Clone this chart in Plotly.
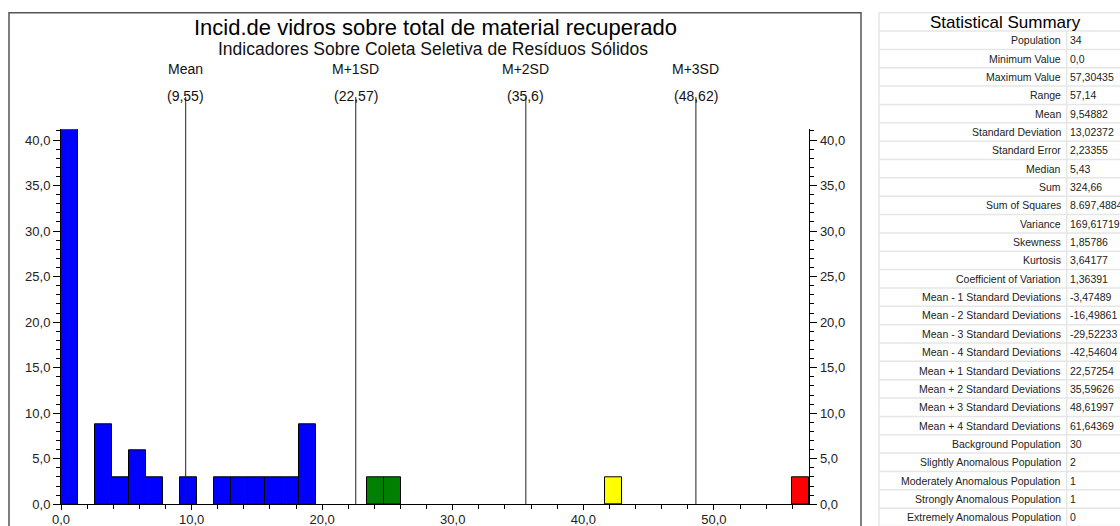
import plotly.graph_objects as go

W, H = 1120, 526

# ---------------- data ----------------
title = "Incid.de vidros sobre total de material recuperado"
subtitle = "Indicadores Sobre Coleta Seletiva de Resíduos Sólidos"

population = 34
min_value = 0.0
max_value = 57.30435
n_bins = 44
bin_counts = [14, 0, 3, 1, 2, 1, 0, 1, 0, 1,
              1, 1, 1, 1, 3, 0, 0, 0, 1, 1,
              0, 0, 0, 0, 0, 0, 0, 0, 0, 0,
              0, 0, 1, 0, 0, 0, 0, 0, 0, 0,
              0, 0, 0, 1]

sd_names = ["Mean", "M+1SD", "M+2SD", "M+3SD"]
sd_values = [9.54882, 22.57254, 35.59626, 48.61997]
class_colors = ["#0000FF", "#008000", "#FFFF00", "#FF0000"]

y_ticks_fmt = ".1f"

summary_title = "Statistical Summary"
summary_labels = [
    "Population", "Minimum Value", "Maximum Value", "Range", "Mean",
    "Standard Deviation", "Standard Error", "Median", "Sum", "Sum of Squares",
    "Variance", "Skewness", "Kurtosis", "Coefficient of Variation",
    "Mean - 1 Standard Deviations", "Mean - 2 Standard Deviations",
    "Mean - 3 Standard Deviations", "Mean - 4 Standard Deviations",
    "Mean + 1 Standard Deviations", "Mean + 2 Standard Deviations",
    "Mean + 3 Standard Deviations", "Mean + 4 Standard Deviations",
    "Background Population", "Slightly Anomalous Population",
    "Moderately Anomalous Population", "Strongly Anomalous Population",
    "Extremely Anomalous Population",
]
summary_values = [
    "34", "0,0", "57,30435", "57,14", "9,54882",
    "13,02372", "2,23355", "5,43", "324,66", "8.697,48849",
    "169,61719", "1,85786", "3,64177", "1,36391",
    "-3,47489", "-16,49861", "-29,52233", "-42,54604",
    "22,57254", "35,59626", "48,61997", "61,64369",
    "30", "2", "1", "1", "0",
]

# ---------------- derived ----------------
bw = (max_value - min_value) / n_bins
xs, ys, cols = [], [], []
for i, c in enumerate(bin_counts):
    if c == 0:
        continue
    center = min_value + (i + 0.5) * bw
    k = sum(1 for v in sd_values if center >= v)
    k = max(0, k - 1)
    xs.append(center)
    ys.append(c / population * 100.0)
    cols.append(class_colors[k])
y_top = max(ys)

# ---------------- layout helpers (window pixels -> paper) ----------------
def px_x(p):
    return p / W

def px_y(p):
    return 1 - p / H

FONT = "Liberation Sans, Arial, sans-serif"
x_dom = [px_x(61), px_x(809.3)]
y_dom = [px_y(504.3), px_y(129.3)]

fig = go.Figure()
fig.add_trace(go.Bar(
    x=xs, y=ys, width=bw,
    marker=dict(color=cols, line=dict(color="black", width=1)),
    showlegend=False, hoverinfo="x+y",
))
fig.add_trace(go.Scatter(x=[None], y=[None], yaxis="y2", showlegend=False,
                         hoverinfo="skip", mode="markers"))

axis_common = dict(
    showline=True, linecolor="black", linewidth=1, ticks="outside",
    tickcolor="black", tickwidth=1, showgrid=False, zeroline=False,
    automargin=False,
    tickformat=y_ticks_fmt, tickfont=dict(family=FONT, size=13, color="#222"),
)

fig.update_layout(
    width=W, height=H, margin=dict(l=0, r=0, t=0, b=0, pad=0),
    paper_bgcolor="white", plot_bgcolor="white",
    separators=",.", bargap=0, showlegend=False,
    font=dict(family=FONT, color="#222"),
    xaxis=dict(domain=x_dom, range=[min_value, max_value], dtick=10, tick0=0,
               ticklen=5, anchor="y", ticklabelstandoff=-2,
               minor=dict(dtick=2, tick0=0, ticks="outside", ticklen=4,
                          tickcolor="black"),
               **axis_common),
    yaxis=dict(domain=y_dom, range=[0, y_top], dtick=5, tick0=0, ticklen=7,
               anchor="x", side="left",
               minor=dict(dtick=1, tick0=0, ticks="outside", ticklen=4,
                          tickcolor="black"),
               **axis_common),
    yaxis2=dict(range=[0, y_top], dtick=5, tick0=0, ticklen=7,
                anchor="x", side="right", overlaying="y",
                minor=dict(dtick=1, tick0=0, ticks="outside", ticklen=4,
                           tickcolor="black"),
                **axis_common),
)

shapes = []
annotations = []

# chart frame
shapes.append(dict(type="rect", xref="paper", yref="paper",
                   x0=px_x(9), x1=px_x(861), y0=px_y(560), y1=px_y(12.7),
                   line=dict(color="#555", width=1.5), layer="below"))

# titles
annotations.append(dict(text=title, xref="paper", yref="paper",
                        x=px_x(435), y=px_y(27), showarrow=False,
                        xanchor="center", yanchor="middle",
                        font=dict(family=FONT, size=22, color="black")))
annotations.append(dict(text=subtitle, xref="paper", yref="paper",
                        x=px_x(433), y=px_y(49), showarrow=False,
                        xanchor="center", yanchor="middle",
                        font=dict(family=FONT, size=17.5, color="#111")))

# mean / SD lines
for name, v in zip(sd_names, sd_values):
    shapes.append(dict(type="line", xref="x", yref="paper",
                       x0=v, x1=v, y0=y_dom[0], y1=px_y(97),
                       line=dict(color="#222", width=1), layer="above"))
    annotations.append(dict(text=name, xref="x", yref="paper", x=v,
                            y=px_y(68.5), showarrow=False, xanchor="center",
                            yanchor="middle",
                            font=dict(family=FONT, size=14, color="#111")))
    lab = "(" + f"{round(v, 2):g}".replace(".", ",") + ")"
    annotations.append(dict(text=lab, xref="x", yref="paper", x=v,
                            y=px_y(96), showarrow=False, xanchor="center",
                            yanchor="middle",
                            font=dict(family=FONT, size=14, color="#111")))

# summary table
t_left, t_div, t_right = 879, 1066.7, 1130
t_top, row_h = 12.7, 18.35
grid = dict(color="#e6e6e6", width=1.5)
n_rows = len(summary_labels)
for k in range(n_rows + 2):
    yy = t_top + k * row_h
    shapes.append(dict(type="line", xref="paper", yref="paper",
                       x0=px_x(t_left), x1=px_x(t_right),
                       y0=px_y(yy), y1=px_y(yy), line=grid))
shapes.append(dict(type="line", xref="paper", yref="paper",
                   x0=px_x(t_left), x1=px_x(t_left),
                   y0=px_y(t_top), y1=px_y(H + 8), line=grid))
shapes.append(dict(type="line", xref="paper", yref="paper",
                   x0=px_x(t_div), x1=px_x(t_div),
                   y0=px_y(t_top + row_h), y1=px_y(H + 8), line=grid))
annotations.append(dict(text=summary_title, xref="paper", yref="paper",
                        x=px_x(1005.5), y=px_y(t_top + row_h / 2 + 0.5),
                        showarrow=False, xanchor="center", yanchor="middle",
                        font=dict(family=FONT, size=17, color="black")))
for i, (lab, val) in enumerate(zip(summary_labels, summary_values)):
    yc = t_top + row_h * (i + 1.5)
    annotations.append(dict(text=lab, xref="paper", yref="paper",
                            x=px_x(t_div - 3.5), y=px_y(yc), showarrow=False,
                            xanchor="right", yanchor="middle",
                            font=dict(family=FONT, size=10.5, color="#222")))
    annotations.append(dict(text=val, xref="paper", yref="paper",
                            x=px_x(t_div + 1.5), y=px_y(yc), showarrow=False,
                            xanchor="left", yanchor="middle",
                            font=dict(family=FONT, size=10.5, color="#222")))

fig.update_layout(shapes=shapes, annotations=annotations)
fig.write_html("out.html",
               config={"displayModeBar": False},
               post_script="document.body.style.margin='0px';"
                           "document.body.style.overflow='hidden';")
